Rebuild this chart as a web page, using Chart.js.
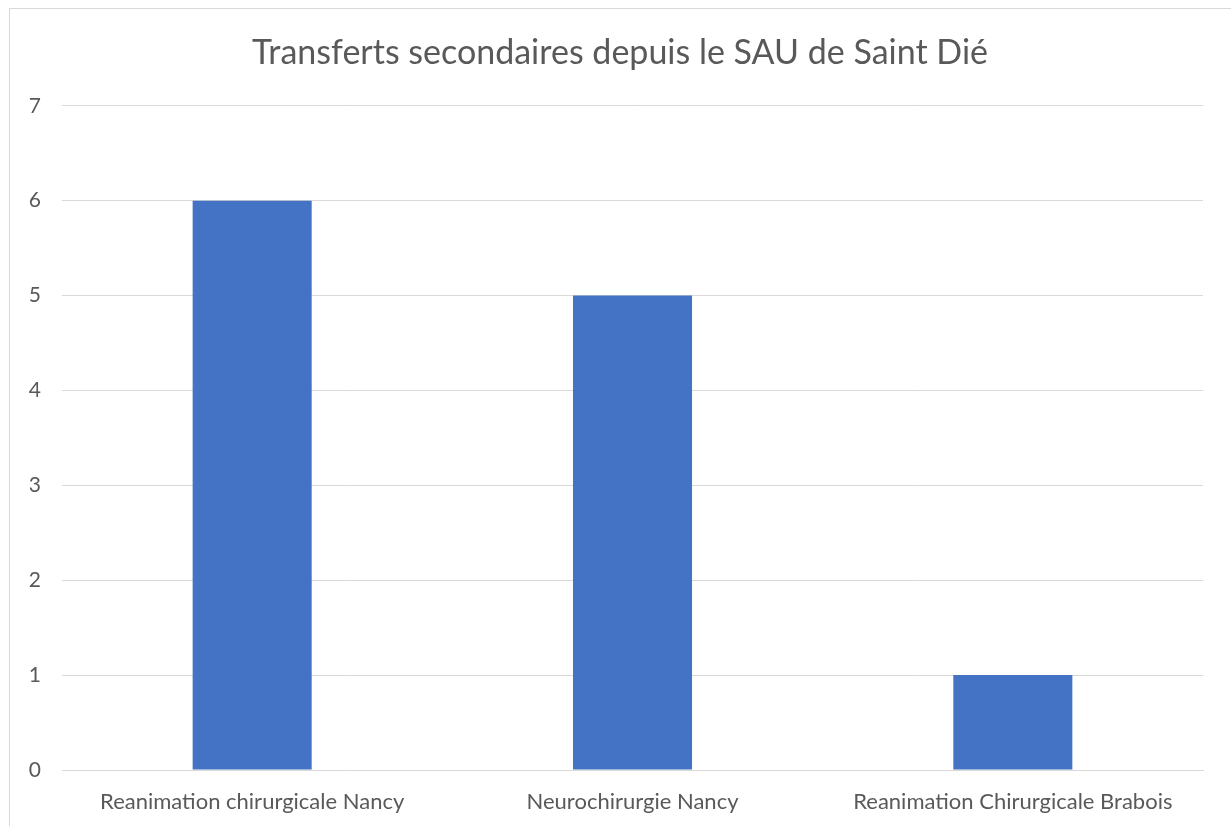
<!DOCTYPE html>
<html>
<head>
<meta charset="utf-8">
<script src="https://cdn.jsdelivr.net/npm/chart.js@4"></script>
<style>
  html, body { margin: 0; padding: 0; background: #fff; overflow: hidden; }
  #frame { position: absolute; left: 9px; top: 8px; width: 1240px; height: 840px; border: 1px solid #d9d9d9; box-sizing: border-box; }
  #wrap { position: absolute; left: 0; top: 0; width: 1231px; height: 826px; }
</style>
</head>
<body>
<div id="frame"></div>
<div id="wrap"><canvas id="c" width="1231" height="826"></canvas></div>
<script>
const title = "Transferts secondaires depuis le SAU de Saint Dié";
const categories = ["Reanimation chirurgicale Nancy", "Neurochirurgie Nancy", "Reanimation Chirurgicale Brabois"];
const values = [6, 5, 1];
const yTicks = [0, 1, 2, 3, 4, 5, 6, 7];

const FONT = "Lato, 'Open Sans', sans-serif";
const TEXT = "#595959";

const centerTitle = {
  id: 'centerTitle',
  afterLayout(chart) {
    if (chart.titleBlock) {
      chart.titleBlock.left = 0;
      chart.titleBlock.right = 1240;
    }
  }
};

new Chart(document.getElementById('c'), {
  type: 'bar',
  data: {
    labels: categories,
    datasets: [{
      data: values,
      backgroundColor: '#4472C4',
      borderWidth: 0,
      barPercentage: 0.626,
      categoryPercentage: 0.5
    }]
  },
  options: {
    responsive: false,
    animation: false,
    devicePixelRatio: 1,
    layout: { padding: { left: 0, right: 28, top: 0, bottom: 0 } },
    plugins: {
      legend: { display: false },
      tooltip: { enabled: false },
      title: {
        display: true,
        text: title,
        color: TEXT,
        font: { family: FONT, size: 34, weight: 'normal' },
        padding: { top: 33, bottom: 32 }
      }
    },
    scales: {
      x: {
        grid: { display: false, drawTicks: false },
        border: { display: true, color: '#d9d9d9', width: 1 },
        ticks: { color: TEXT, font: { family: FONT, size: 22 }, padding: 19, maxRotation: 0, autoSkip: false },
        afterFit: (s) => { s.height = 56; }
      },
      y: {
        min: 0, max: 7,
        afterBuildTicks: (s) => { s.ticks = yTicks.map(v => ({ value: v })); },
        grid: { color: '#d9d9d9', lineWidth: 1, drawTicks: false },
        border: { display: false },
        ticks: { color: TEXT, font: { family: FONT, size: 21 }, padding: 21 },
        afterFit: (s) => { s.width = 62; }
      }
    }
  },
  plugins: [centerTitle]
});
</script>
</body>
</html>
